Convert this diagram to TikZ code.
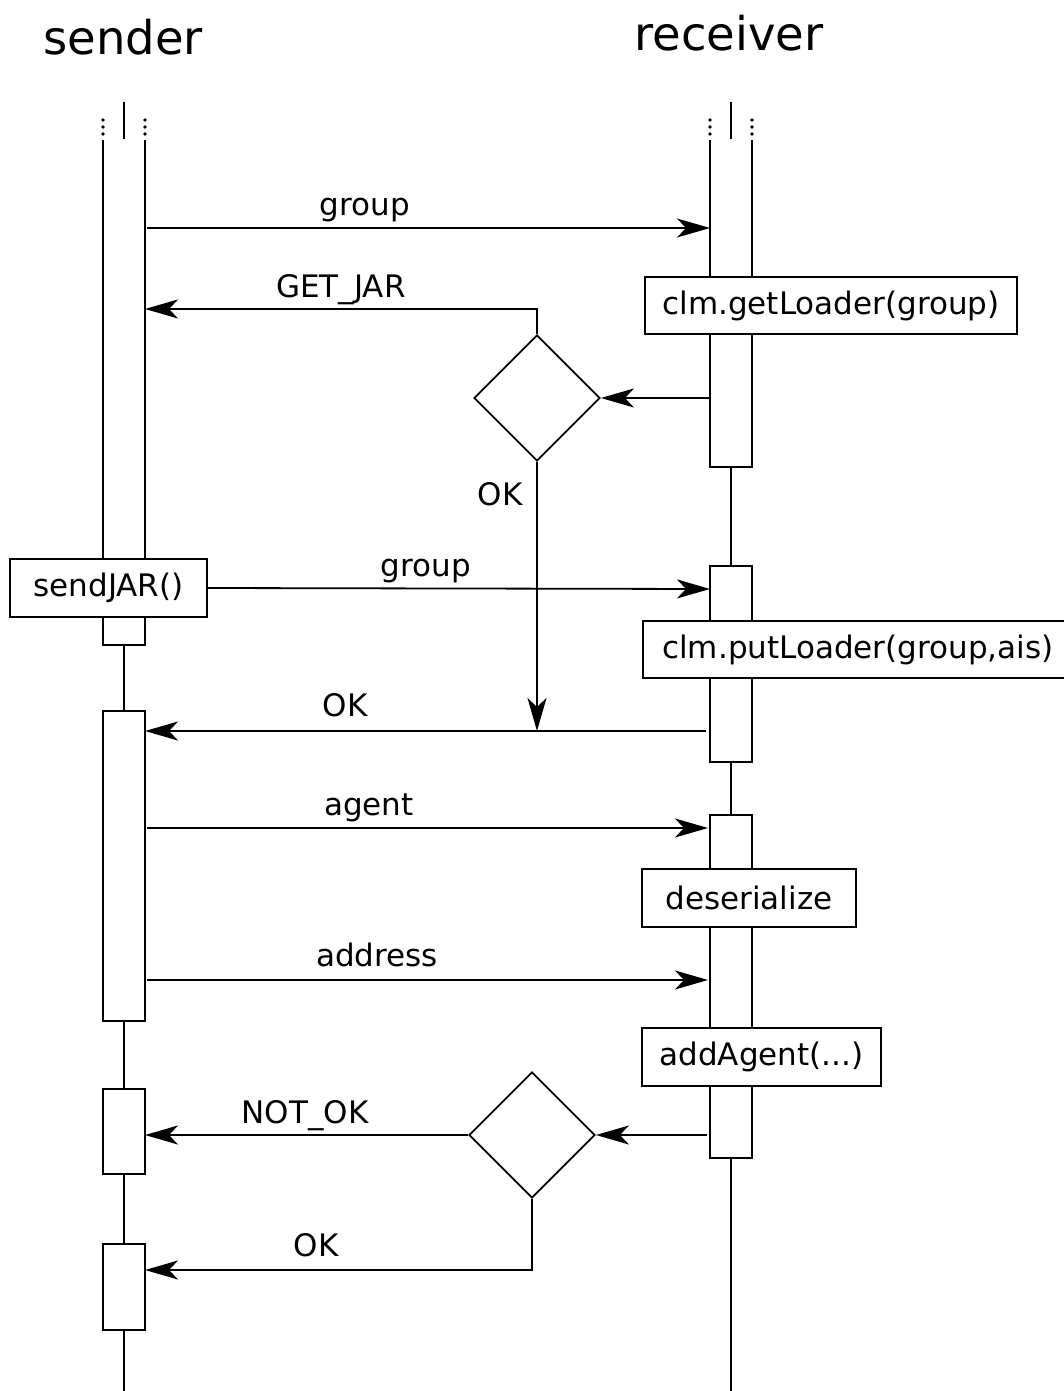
\documentclass[tikz,border=0pt]{standalone}
\usepackage{fontspec}
\setmainfont{DejaVu Sans}
\usetikzlibrary{arrows.meta,shapes.geometric}
\begin{document}
\begin{tikzpicture}[x=1pt,y=-1pt,line width=1.8pt,
  msg/.style={-{Stealth[length=33pt,width=19pt,inset=9pt]}},
  lbl/.style={inner sep=0pt,anchor=base,font=\fontsize{31}{36}\selectfont},
  title/.style={inner sep=0pt,font=\fontsize{46.5}{52}\selectfont},
  bar/.style={draw,fill=white},
  callbox/.style={draw,fill=white,inner sep=0pt,minimum height=57.5pt,
    font=\fontsize{31}{36}\selectfont},
  choice/.style={draw,fill=white,diamond,shape aspect=1,inner sep=0pt,
    minimum width=126pt,minimum height=126pt}]
\useasboundingbox (0,0) rectangle (1064,1391);
\clip (0,0) rectangle (1064,1391);

% headings
\node[title] (tsender) at (123,37) {sender};
\node[title] (treceiver) at (729,33) {receiver};

% lifeline heads: short centre line with dotted continuation marks
\foreach \cx/\lx/\rx in {124/103/145, 731/710/752}{
  \draw (\cx,102) -- (\cx,139);
  \foreach \dy in {120,127,134}{
    \fill (\lx,\dy) circle (1.9pt);
    \fill (\rx,\dy) circle (1.9pt);
  }
}

% sender lifeline
\draw (103,140) -- (103,645) -- (145,645) -- (145,140);
\draw (124,645) -- (124,711);
\draw (124,1021) -- (124,1089);
\draw (124,1174) -- (124,1244);
\draw (124,1330) -- (124,1391);
\draw[bar] (103,711) rectangle (145,1021);
\draw[bar] (103,1089) rectangle (145,1174);
\draw[bar] (103,1244) rectangle (145,1330);

% receiver lifeline
\draw (710,140) -- (710,467) -- (752,467) -- (752,140);
\draw (731,467) -- (731,566);
\draw (731,762) -- (731,815);
\draw (731,1158) -- (731,1391);
\draw[bar] (710,566) rectangle (752,762);
\draw[bar] (710,815) rectangle (752,1158);

% actions
\node[callbox,minimum width=372pt] (getloader) at (831,305.5) {clm.getLoader(group)};
\node[callbox,minimum width=197pt] (sendjar) at (108.5,588) {sendJAR()};
\node[callbox,minimum width=430pt,anchor=west] (putloader) at (642,649.5) {clm.putLoader(group,ais)};
\node[callbox,minimum width=214pt] (deser) at (749,898) {deserialize};
\node[callbox,minimum width=239pt] (addagent) at (761.5,1057) {addAgent(...)};

% decisions
\node[choice] (d1) at (537,398) {};
\node[choice] (d2) at (532,1135) {};

% message end points
\coordinate (s1) at (147,228);   \coordinate (r1) at (710,228);
\coordinate (s2) at (145,309);
\coordinate (r3) at (710,398);
\coordinate (j4) at (537,731);
\coordinate (r5) at (710,589);
\coordinate (s6) at (145,731);   \coordinate (r6) at (706,731);
\coordinate (s7) at (147,828);   \coordinate (r7) at (708,828);
\coordinate (s8) at (147,980);   \coordinate (r8) at (708,980);
\coordinate (r9) at (707,1135);
\coordinate (s10) at (145,1135);
\coordinate (s11) at (145,1270);

% messages
\draw[msg] (s1) -- (r1);
\draw[msg] (d1.north) |- (s2);
\draw[msg] (r3) -- (d1.east);
\draw[msg] (d1.south) -- (j4);
\draw[msg] (sendjar.east) -- (r5);
\draw[msg] (r6) -- (s6);
\draw[msg] (s7) -- (r7);
\draw[msg] (s8) -- (r8);
\draw[msg] (r9) -- (d2.east);
\draw[msg] (d2.west) -- (s10);
\draw[msg] (d2.south) |- (s11);

% message labels, set on their baselines
\node[lbl] (lgroup1) at (365,215) {group};
\node[lbl] (lgetjar) at (341,297) {GET\_JAR};
\node[lbl] (lok1) at (500,505) {OK};
\node[lbl] (lgroup2) at (426,576) {group};
\node[lbl] (lok2) at (345,716) {OK};
\node[lbl] (lagent) at (369,815) {agent};
\node[lbl] (laddress) at (377,966) {address};
\node[lbl] (lnotok) at (305,1123) {NOT\_OK};
\node[lbl] (lok3) at (316,1256) {OK};
\end{tikzpicture}
\end{document}
